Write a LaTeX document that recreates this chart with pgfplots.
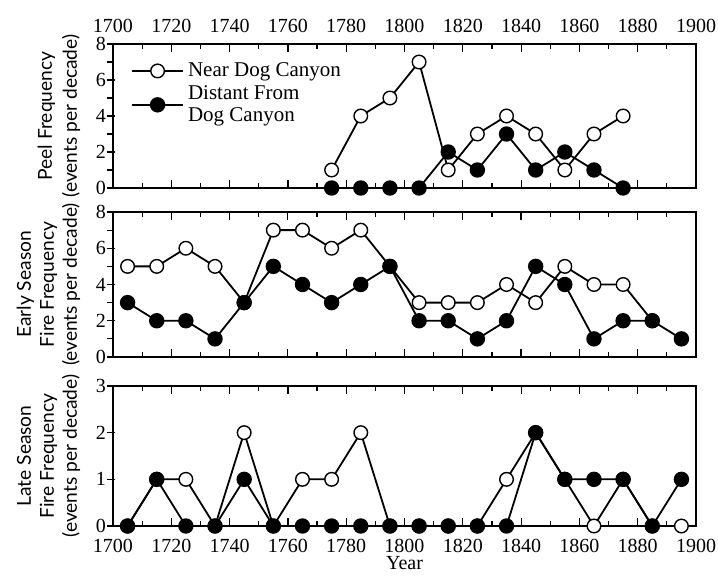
\documentclass[border=0pt]{standalone}
\usepackage{fontspec}
\setmainfont{Liberation Serif}
\newfontfamily\labfont{Lato}
\usepackage{pgfplots}
\pgfplotsset{compat=1.18}

\pgfplotsset{
  panel/.style={
    scale only axis, anchor=south west, width=291.5pt,
    xmin=1700, xmax=1900,
    xtick={1700,1720,...,1900}, minor x tick num=1,
    xtick pos=both, ytick pos=left,
    tick align=inside,
    major tick length=4pt, minor tick length=2.5pt,
    y tick style={xshift=-3pt},
    axis line style={line width=0.8pt},
    tick style={line width=0.6pt, black},
    tick label style={font=\fontsize{10}{12}\selectfont},
    /pgf/number format/assume math mode=true,
    /pgf/number format/1000 sep={},
    ylabel style={font=\labfont\fontsize{9.6}{11.5}\selectfont, align=center},
    ylabel shift=1pt,
    every axis plot/.append style={black, line width=0.9pt, mark size=3.4pt},
  },
  near/.style={mark=*, mark options={fill=white, line width=0.7pt}},
  far/.style={mark=*, mark options={fill=black}},
}

\begin{document}
\begin{tikzpicture}
\path[use as bounding box] (0,0) rectangle (359pt,287.5pt);

% Peel frequency
\begin{axis}[panel, at={(56.5pt,193.5pt)}, height=72pt,
  ymin=0, ymax=8, ytick={0,2,4,6,8}, minor y tick num=1,
  xticklabel pos=upper, xticklabel style={yshift=2pt},
  ylabel={Peel Frequency\\(events per decade)},
  ylabel style={font=\labfont\fontsize{9.6}{12.5}\selectfont},
  legend style={at={(rel axis cs:0.02,0.93)}, anchor=north west, draw=none, fill=none,
    font=\fontsize{10.5}{11}\selectfont, cells={anchor=west, align=left},
    row sep=-1pt},
  legend image code/.code={\draw[mark repeat=2,mark phase=2] plot coordinates {(0cm,0cm) (0.45cm,0cm) (0.9cm,0cm)};},
]
\addplot[near] coordinates {(1775,1) (1785,4) (1795,5) (1805,7) (1815,1) (1825,3) (1835,4) (1845,3) (1855,1) (1865,3) (1875,4)};
\addplot[far] coordinates {(1775,0) (1785,0) (1795,0) (1805,0) (1815,2) (1825,1) (1835,3) (1845,1) (1855,2) (1865,1) (1875,0)};
\legend{Near Dog Canyon, Distant From\\Dog Canyon}
\end{axis}

% Early season
\begin{axis}[panel, at={(56.5pt,109pt)}, height=72.5pt,
  ymin=0, ymax=8, ytick={0,2,4,6,8}, minor y tick num=1,
  xticklabels={},
  ylabel={Early Season\\Fire Frequency\\(events per decade)},
]
\addplot[near] coordinates {(1705,5) (1715,5) (1725,6) (1735,5) (1745,3) (1755,7) (1765,7) (1775,6) (1785,7) (1795,5) (1805,3) (1815,3) (1825,3) (1835,4) (1845,3) (1855,5) (1865,4) (1875,4) (1885,2)};
\addplot[far] coordinates {(1705,3) (1715,2) (1725,2) (1735,1) (1745,3) (1755,5) (1765,4) (1775,3) (1785,4) (1795,5) (1805,2) (1815,2) (1825,1) (1835,2) (1845,5) (1855,4) (1865,1) (1875,2) (1885,2) (1895,1)};
\end{axis}

% Late season
\begin{axis}[panel, at={(56.5pt,24.5pt)}, height=70pt,
  ymin=0, ymax=3, ytick={0,1,2,3},
  xticklabel pos=lower, xticklabel style={yshift=-3pt},
  xlabel={Year}, xlabel style={font=\fontsize{10}{12}\selectfont, yshift=5pt},
  ylabel={Late Season\\Fire Frequency\\(events per decade)},
]
\addplot[near] coordinates {(1705,0) (1715,1) (1725,1) (1735,0) (1745,2) (1755,0) (1765,1) (1775,1) (1785,2) (1795,0) (1805,0) (1815,0) (1825,0) (1835,1) (1845,2) (1855,1) (1865,0) (1875,1) (1885,0) (1895,0)};
\addplot[far] coordinates {(1705,0) (1715,1) (1725,0) (1735,0) (1745,1) (1755,0) (1765,0) (1775,0) (1785,0) (1795,0) (1805,0) (1815,0) (1825,0) (1835,0) (1845,2) (1855,1) (1865,1) (1875,1) (1885,0) (1895,1)};
\end{axis}
\end{tikzpicture}
\end{document}
